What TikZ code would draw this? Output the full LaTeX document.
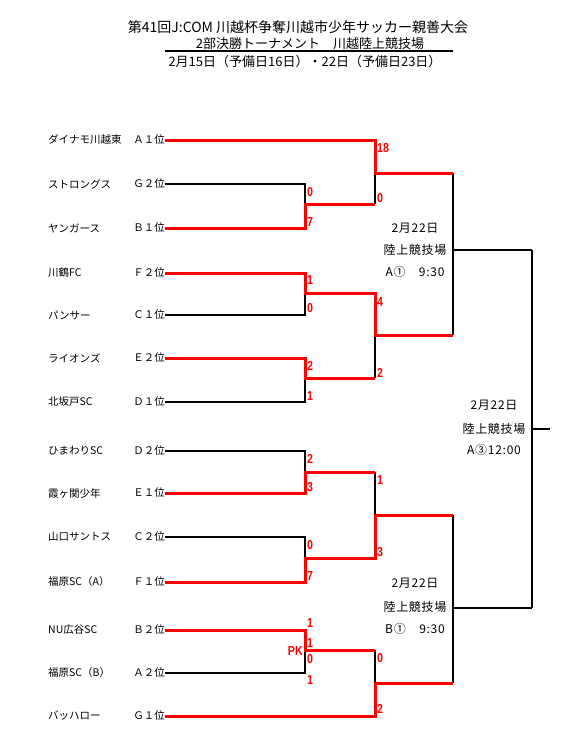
\documentclass[tikz,border=0pt]{standalone}
\usepackage{fontspec}
\setmainfont{Noto Sans CJK JP}
\newfontfamily\scorefont[FakeStretch=0.82]{Liberation Sans}
\newfontfamily\venuefont[LetterSpace=6]{Noto Sans CJK JP}
\usepackage{tikz}
\usetikzlibrary{positioning, calc}
\definecolor{bracketred}{RGB}{255, 0, 0}

\begin{document}
\begin{tikzpicture}[
    x=1pt, y=-1pt,
    base/.style={inner sep=0pt, font=\fontsize{10.5pt}{12pt}\selectfont},
    team/.style={base, anchor=west},
    rank/.style={base, anchor=east},
    title/.style={inner sep=0pt, font=\fontsize{13pt}{15pt}\selectfont},
    venue/.style={inner sep=0pt, font=\venuefont\fontsize{12pt}{14pt}\selectfont},
    score/.style={inner sep=0pt, anchor=west, text=bracketred, font=\scorefont\fontsize{13pt}{13pt}\selectfont\bfseries},
    lose/.style={line width=1.5pt, black},
    win/.style={line width=3pt, bracketred}
]
    \useasboundingbox (0,0) rectangle (563,737);

    % --- TITLE ---
    \node[title, font=\fontsize{14pt}{16pt}\selectfont] (title1) at (298,27) {第41回J:COM 川越杯争奪川越市少年サッカー親善大会};
    \node[title] (title2) at (310,44) {2部決勝トーナメント　川越陸上競技場};
    \node[title] (title3) at (305,62) {2月15日（予備日16日）・22日（予備日23日）};
    \draw[line width=2pt] (165,51) -- (453,51);

    % --- TEAMS ---
    \node[team] (dynamo) at (48,140) {ダイナモ川越東};       \node[rank] (dynamo-r) at (165,140) {Ａ１位};
    \node[team] (strongs) at (48,184) {ストロングス};        \node[rank] (strongs-r) at (165,184) {Ｇ２位};
    \node[team] (yangers) at (48,228) {ヤンガース};          \node[rank] (yangers-r) at (165,228) {Ｂ１位};
    \node[team] (kawatsuru) at (48,273) {川鶴FC};           \node[rank] (kawatsuru-r) at (165,273) {Ｆ２位};
    \node[team] (panther) at (48,315) {パンサー};            \node[rank] (panther-r) at (165,315) {Ｃ１位};
    \node[team] (lions) at (48,358) {ライオンズ};            \node[rank] (lions-r) at (165,358) {Ｅ２位};
    \node[team] (kitasakado) at (48,402) {北坂戸SC};         \node[rank] (kitasakado-r) at (165,402) {Ｄ１位};
    \node[team] (himawari) at (48,451) {ひまわりSC};         \node[rank] (himawari-r) at (165,451) {Ｄ２位};
    \node[team] (kasumi) at (48,493) {霞ヶ関少年};           \node[rank] (kasumi-r) at (165,493) {Ｅ１位};
    \node[team] (santos) at (48,537) {山口サントス};         \node[rank] (santos-r) at (165,537) {Ｃ２位};
    \node[team] (fukuharaA) at (48,582) {福原SC（A）};       \node[rank] (fukuharaA-r) at (165,582) {Ｆ１位};
    \node[team] (nuhiroya) at (48,630) {NU広谷SC};           \node[rank] (nuhiroya-r) at (165,630) {Ｂ２位};
    \node[team] (fukuharaB) at (48,673) {福原SC（B）};       \node[rank] (fukuharaB-r) at (165,673) {Ａ２位};
    \node[team] (buffalo) at (48,716) {バッハロー};          \node[rank] (buffalo-r) at (165,716) {Ｇ１位};

    % --- JUNCTIONS ---
    \coordinate (j1) at (305,204);
    \coordinate (j2) at (305,293);
    \coordinate (j3) at (305,378);
    \coordinate (j4) at (305,472);
    \coordinate (j5) at (305,558);
    \coordinate (j6) at (305,650);
    \coordinate (q1) at (375,173);
    \coordinate (q2) at (375,335);
    \coordinate (q3) at (375,515);
    \coordinate (q4) at (375,683);
    \coordinate (s1) at (453,173);
    \coordinate (s2) at (453,335);
    \coordinate (s3) at (453,515);
    \coordinate (s4) at (453,683);
    \coordinate (p1) at (453,250);
    \coordinate (p2) at (453,608);
    \coordinate (t1) at (532,250);
    \coordinate (t2) at (532,608);
    \coordinate (fin) at (532,429);
    \coordinate (finend) at (550,429);

    % --- LOSING / UNPLAYED LINES ---
    \draw[lose] (strongs-r.east) -| (j1);
    \draw[lose] (j1 -| q1) -- (q1);
    \draw[lose] (panther-r.east) -| (j2);
    \draw[lose] (kitasakado-r.east) -| (j3);
    \draw[lose] (j3 -| q2) -- (q2);
    \draw[lose] (himawari-r.east) -| (j4);
    \draw[lose] (j4 -| q3) -- (q3);
    \draw[lose] (santos-r.east) -| (j5);
    \draw[lose] (fukuharaB-r.east) -| (j6);
    \draw[lose] (j6 -| q4) -- (q4);
    \draw[lose] (s1) -- (s2);
    \draw[lose] (s3) -- (s4);
    \draw[lose] (p1) -- (t1);
    \draw[lose] (p2) -- (t2);
    \draw[lose] (t1) -- (t2);
    \draw[lose] (fin) -- (finend);

    % --- WINNING LINES ---
    \draw[win] (dynamo-r.east) -| (q1) -- (s1);
    \draw[win] (yangers-r.east) -| (j1) -- (j1 -| q1);
    \draw[win] (kawatsuru-r.east) -| (j2) -- (j2 -| q2) -- (q2) -- (s2);
    \draw[win] (lions-r.east) -| (j3) -- (j3 -| q2);
    \draw[win] (kasumi-r.east) -| (j4) -- (j4 -| q3);
    \draw[win] (fukuharaA-r.east) -| (j5) -- (j5 -| q3) -- (q3) -- (s3);
    \draw[win] (nuhiroya-r.east) -| (j6) -- (j6 -| q4);
    \draw[win] (buffalo-r.east) -| (q4) -- (s4);

    % --- SCORES ---
    \node[score] (sc1) at (307,192) {0};
    \node[score] (sc2) at (307,222) {7};
    \node[score] (sc3) at (307,280) {1};
    \node[score] (sc4) at (307,308) {0};
    \node[score] (sc5) at (307,366) {2};
    \node[score] (sc6) at (307,396) {1};
    \node[score] (sc7) at (377,148) {18};
    \node[score] (sc8) at (377,198) {0};
    \node[score] (sc9) at (377,302) {4};
    \node[score] (sc10) at (377,373) {2};
    \node[score] (sc11) at (307,459) {2};
    \node[score] (sc12) at (307,487) {3};
    \node[score] (sc13) at (307,545) {0};
    \node[score] (sc14) at (307,576) {7};
    \node[score] (sc15) at (307,623) {1};
    \node[score] (sc16) at (307,643) {1};
    \node[score] (sc17) at (307,659) {0};
    \node[score] (sc18) at (307,680) {1};
    \node[score, anchor=east] (pk) at (303,651) {PK};
    \node[score] (sc19) at (377,480) {1};
    \node[score] (sc20) at (377,552) {3};
    \node[score] (sc21) at (377,658) {0};
    \node[score] (sc22) at (377,709) {2};

    % --- VENUES ---
    \node[venue] (dateA) at (415,228) {2月22日};
    \node[venue] (placeA) at (415,250) {陸上競技場};
    \node[venue] (timeA) at (415,272) {A①　9:30};
    \node[venue] (dateB) at (415,583) {2月22日};
    \node[venue] (placeB) at (415,607) {陸上競技場};
    \node[venue] (timeB) at (415,629) {B①　9:30};
    \node[venue] (dateF) at (494,405) {2月22日};
    \node[venue] (placeF) at (494,429) {陸上競技場};
    \node[venue] (timeF) at (494,450) {A③12:00};

\end{tikzpicture}
\end{document}
